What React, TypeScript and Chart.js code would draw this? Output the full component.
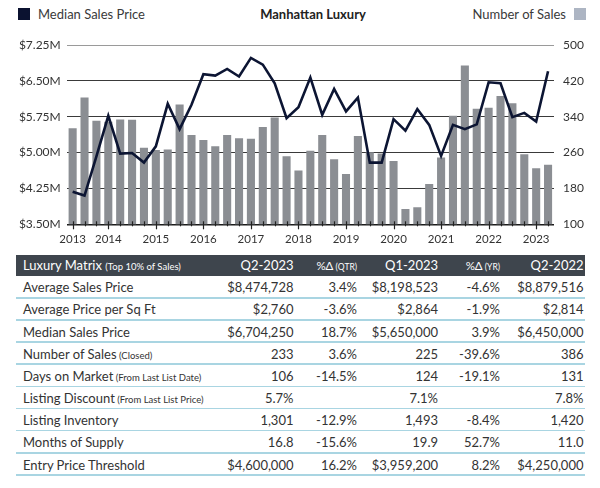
import React, { useEffect, useRef } from "react";
import { Chart, registerables } from "chart.js";

Chart.register(...registerables);

const quarters = [
  "2013 Q2", "2013 Q3", "2013 Q4",
  "2014 Q1", "2014 Q2", "2014 Q3", "2014 Q4",
  "2015 Q1", "2015 Q2", "2015 Q3", "2015 Q4",
  "2016 Q1", "2016 Q2", "2016 Q3", "2016 Q4",
  "2017 Q1", "2017 Q2", "2017 Q3", "2017 Q4",
  "2018 Q1", "2018 Q2", "2018 Q3", "2018 Q4",
  "2019 Q1", "2019 Q2", "2019 Q3", "2019 Q4",
  "2020 Q1", "2020 Q2", "2020 Q3", "2020 Q4",
  "2021 Q1", "2021 Q2", "2021 Q3", "2021 Q4",
  "2022 Q1", "2022 Q2", "2022 Q3", "2022 Q4",
  "2023 Q1", "2023 Q2",
];

// Median sales price, $ millions (left axis)
const medianPrice = [
  4.18, 4.10, 4.92,
  5.77, 4.98, 4.99, 4.79,
  5.13, 6.02, 5.49, 6.00,
  6.64, 6.61, 6.75, 6.59,
  6.98, 6.84, 6.45, 5.72,
  5.95, 6.57, 5.79, 6.33,
  5.86, 6.15, 4.79, 4.79,
  5.70, 5.46, 5.91, 5.58,
  4.93, 5.58, 5.49, 5.59,
  6.47, 6.45, 5.74, 5.83,
  5.65, 6.70,
];

// Number of sales (right axis)
const salesCount = [
  314, 383, 331,
  329, 334, 333, 271,
  266, 267, 367, 299,
  288, 274, 299, 292,
  291, 317, 338, 252,
  220, 264, 299, 245,
  212, 297, 261, 258,
  241, 134, 138, 190,
  249, 342, 454, 358,
  360, 386, 370, 256,
  225, 233,
];

const leftAxis = { min: 3.5, max: 7.25, step: 0.75 };
const rightAxis = { min: 100, max: 500, step: 80 };

// Table data
const headerLabels = ["Q2-2023", "%Δ", "Q1-2023", "%Δ", "Q2-2022"];
const headerNotes = ["", "(QTR)", "", "(YR)", ""];
const rowLabels = [
  "Average Sales Price",
  "Average Price per Sq Ft",
  "Median Sales Price",
  "Number of Sales",
  "Days on Market",
  "Listing Discount",
  "Listing Inventory",
  "Months of Supply",
  "Entry Price Threshold",
];
const rowNotes = ["", "", "", "(Closed)", "(From Last List Date)", "(From Last List Price)", "", "", ""];
const q2_2023 = ["$8,474,728", "$2,760", "$6,704,250", "233", "106", "5.7%", "1,301", "16.8", "$4,600,000"];
const qtrChange = ["3.4%", "-3.6%", "18.7%", "3.6%", "-14.5%", "", "-12.9%", "-15.6%", "16.2%"];
const q1_2023 = ["$8,198,523", "$2,864", "$5,650,000", "225", "124", "7.1%", "1,493", "19.9", "$3,959,200"];
const yrChange = ["-4.6%", "-1.9%", "3.9%", "-39.6%", "-19.1%", "", "-8.4%", "52.7%", "8.2%"];
const q2_2022 = ["$8,879,516", "$2,814", "$6,450,000", "386", "131", "7.8%", "1,420", "11.0", "$4,250,000"];

const FONT = "Lato, 'Open Sans', sans-serif";
const colRight = [293.5, 357, 438, 500, 583.5];

const isYearTick = (i: number) => i === 0 || quarters[i].endsWith("Q1");

const tickMarksPlugin = {
  id: "tickMarks",
  afterDraw(chart: any) {
    const { ctx, chartArea } = chart;
    const xs = chart.scales.x;
    ctx.save();
    ctx.strokeStyle = "#222";
    ctx.lineWidth = 1.2;
    for (let i = 0; i < quarters.length; i++) {
      const x = Math.round(xs.getPixelForValue(i)) + 0.5;
      ctx.beginPath();
      ctx.moveTo(x, chartArea.bottom - 3);
      ctx.lineTo(x, chartArea.bottom + (isYearTick(i) ? 5 : 2));
      ctx.stroke();
    }
    ctx.restore();
  },
};

function ChartCanvas() {
  const ref = useRef<HTMLCanvasElement | null>(null);
  useEffect(() => {
    if (!ref.current) return;
    const chart = new Chart(ref.current, {
      type: "bar",
      data: {
        labels: quarters,
        datasets: [
          {
            type: "line",
            label: "Median Sales Price",
            data: medianPrice,
            yAxisID: "y",
            borderColor: "#0c1533",
            backgroundColor: "#0c1533",
            borderWidth: 2.6,
            pointRadius: 0,
            tension: 0,
            order: 0,
          } as any,
          {
            type: "bar",
            label: "Number of Sales",
            data: salesCount,
            yAxisID: "y1",
            backgroundColor: "#8b8e93",
            barPercentage: 0.68,
            categoryPercentage: 1,
            order: 1,
          },
        ],
      },
      options: {
        responsive: false,
        animation: false,
        devicePixelRatio: 1,
        layout: { padding: { top: 45, left: 0, right: 0, bottom: 0 } },
        plugins: { legend: { display: false }, tooltip: { enabled: false } },
        scales: {
          x: {
            type: "category",
            offset: true,
            grid: { display: false, drawTicks: false },
            border: { display: false },
            ticks: {
              autoSkip: false,
              maxRotation: 0,
              minRotation: 0,
              padding: 8,
              color: "#333",
              font: { size: 11.5, family: FONT },
              callback: (_v: any, i: number) => (isYearTick(i) ? quarters[i].slice(0, 4) : ""),
            },
            afterFit: (s: any) => {
              s.height = 25.7;
            },
          },
          y: {
            position: "left",
            min: leftAxis.min,
            max: leftAxis.max,
            z: 1,
            border: { display: false },
            grid: {
              drawTicks: false,
              lineWidth: (c: any) => (c.index === 0 ? 1.4 : 1),
              color: (c: any) =>
                c.index === 0 ? "#1a1a1a" : c.tick && c.tick.value >= leftAxis.max ? "#9a9a9a" : "#3a3a3a",
            },
            ticks: {
              stepSize: leftAxis.step,
              padding: 6,
              color: "#333",
              font: { size: 12, family: FONT },
              callback: (v: any) => "$" + Number(v).toFixed(2) + "M",
            },
            afterFit: (s: any) => {
              s.width = 66.7;
            },
          },
          y1: {
            position: "right",
            min: rightAxis.min,
            max: rightAxis.max,
            border: { display: false },
            grid: { display: false, drawTicks: false },
            ticks: {
              stepSize: rightAxis.step,
              padding: 9,
              color: "#333",
              font: { size: 12, family: FONT },
            },
            afterFit: (s: any) => {
              s.width = 46;
            },
          },
        },
      } as any,
      plugins: [tickMarksPlugin],
    });
    return () => chart.destroy();
  }, []);
  return (
    <canvas
      ref={ref}
      width={600}
      height={250}
      style={{ position: "absolute", left: 0, top: 0, width: 600, height: 250 }}
    />
  );
}

function Legend() {
  return (
    <>
      <div style={{ position: "absolute", left: 18, top: 8, width: 12, height: 12, background: "#0b1230" }} />
      <div style={{ position: "absolute", left: 38, top: 5, fontSize: 13, color: "#3a3a3a", lineHeight: "18px" }}>
        Median Sales Price
      </div>
      <div
        style={{
          position: "absolute",
          left: 0,
          width: 626,
          top: 5,
          textAlign: "center",
          fontSize: 13,
          fontWeight: 700,
          color: "#222",
          lineHeight: "18px",
        }}
      >
        Manhattan Luxury
      </div>
      <div
        style={{
          position: "absolute",
          right: 600 - 566,
          top: 5,
          fontSize: 13,
          color: "#3a3a3a",
          lineHeight: "18px",
          whiteSpace: "nowrap",
        }}
      >
        Number of Sales
      </div>
      <div style={{ position: "absolute", left: 574, top: 8, width: 12, height: 12, background: "#adb5c3" }} />
    </>
  );
}

function Table() {
  const headerTop = 254.7;
  const headerH = 21.6;
  const rowH = 22.15;
  const left = 16;
  const right = 585;
  const cols = [q2_2023, qtrChange, q1_2023, yrChange, q2_2022];
  return (
    <>
      <div
        style={{
          position: "absolute",
          left,
          top: headerTop,
          width: right - left,
          height: headerH,
          background: "#3e454d",
        }}
      />
      <div
        style={{
          position: "absolute",
          left: 23,
          top: headerTop,
          height: headerH,
          lineHeight: headerH + "px",
          color: "#fff",
          fontSize: 13,
          whiteSpace: "nowrap",
        }}
      >
        Luxury Matrix <span style={{ fontSize: 9.5 }}>(Top 10% of Sales)</span>
      </div>
      {headerLabels.map((h, j) => (
        <div
          key={"h" + j}
          style={{
            position: "absolute",
            right: 600 - colRight[j],
            top: headerTop,
            height: headerH,
            lineHeight: headerH + "px",
            color: "#fff",
            fontSize: headerNotes[j] ? 11.5 : 13,
            whiteSpace: "nowrap",
            textAlign: "right",
          }}
        >
          {h}
          {headerNotes[j] ? <span style={{ fontSize: 8.5 }}> {headerNotes[j]}</span> : null}
        </div>
      ))}
      {rowLabels.map((label, i) => {
        const top = headerTop + headerH + i * rowH;
        return (
          <React.Fragment key={"r" + i}>
            <div
              style={{
                position: "absolute",
                left,
                top: top + rowH - 1.5,
                width: right - left,
                height: 1.6,
                background: "#a9d5e2",
              }}
            />
            <div
              style={{
                position: "absolute",
                left: 23,
                top,
                height: rowH,
                lineHeight: rowH + "px",
                color: "#333",
                fontSize: 13,
                whiteSpace: "nowrap",
              }}
            >
              {label}
              {rowNotes[i] ? <span style={{ fontSize: 9.5 }}> {rowNotes[i]}</span> : null}
            </div>
            {cols.map((col, j) => (
              <div
                key={"c" + j}
                style={{
                  position: "absolute",
                  right: 600 - colRight[j],
                  top,
                  height: rowH,
                  lineHeight: rowH + "px",
                  color: "#333",
                  fontSize: 13,
                  whiteSpace: "nowrap",
                  textAlign: "right",
                }}
              >
                {col[i]}
              </div>
            ))}
          </React.Fragment>
        );
      })}
    </>
  );
}

export default function App() {
  return (
    <div
      style={{
        position: "absolute",
        left: 0,
        top: 0,
        width: 600,
        height: 488,
        background: "#fff",
        fontFamily: FONT,
        overflow: "hidden",
      }}
    >
      <Legend />
      <ChartCanvas />
      <Table />
    </div>
  );
}
